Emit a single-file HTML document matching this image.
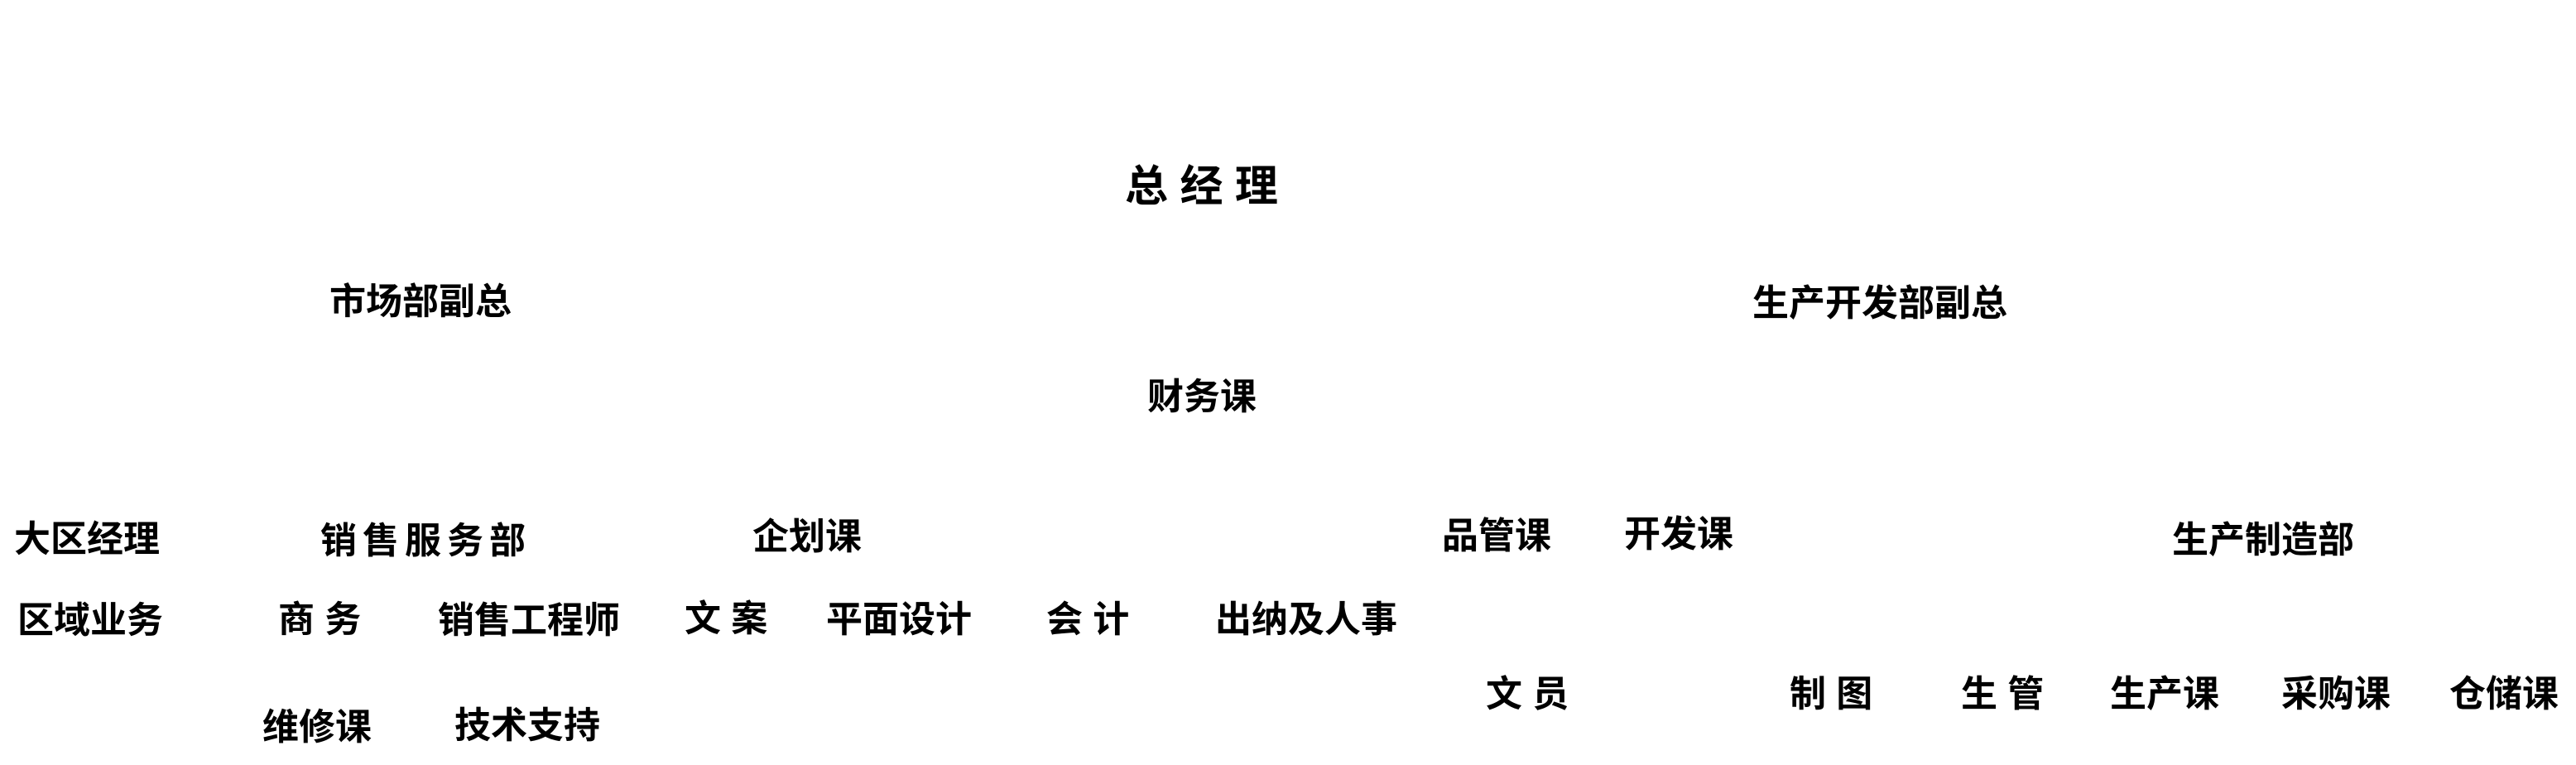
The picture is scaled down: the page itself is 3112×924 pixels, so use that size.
<!DOCTYPE html>
<html>
<head>
<meta charset="utf-8">
<style>
  html, body {
    margin: 0;
    padding: 0;
    background: #ffffff;
  }
  body {
    width: 3112px;
    height: 924px;
    position: relative;
    overflow: hidden;
  }
  .t {
    position: absolute;
    font-family: "Liberation Sans", "Noto Sans CJK SC", "WenQuanYi Zen Hei", sans-serif;
    font-weight: 700;
    font-size: 44px;
    line-height: 1;
    color: #000;
    white-space: pre;
  }
</style>
</head>
<body>
  <div class="t" style="left:1359px; top:200px; font-size:52px;">总 经 理</div>

  <div class="t" style="left:398px; top:343px;">市场部副总</div>
  <div class="t" style="left:2117px; top:345px;">生产开发部副总</div>

  <div class="t" style="left:1386px; top:458px;">财务课</div>

  <div class="t" style="left:17px; top:630px;">大区经理</div>
  <div class="t" style="left:387px; top:632px; letter-spacing:7px;">销售服务部</div>
  <div class="t" style="left:909px; top:627px;">企划课</div>
  <div class="t" style="left:1742px; top:626px;">品管课</div>
  <div class="t" style="left:1962px; top:624px;">开发课</div>
  <div class="t" style="left:2624px; top:631px;">生产制造部</div>

  <div class="t" style="left:21px; top:728px;">区域业务</div>
  <div class="t" style="left:336px; top:727px;">商 务</div>
  <div class="t" style="left:529px; top:728px;">销售工程师</div>
  <div class="t" style="left:827px; top:726px;">文 案</div>
  <div class="t" style="left:998px; top:727px;">平面设计</div>
  <div class="t" style="left:1264px; top:727px;">会 计</div>
  <div class="t" style="left:1468px; top:727px;">出纳及人事</div>

  <div class="t" style="left:1795px; top:817px;">文 员</div>
  <div class="t" style="left:2162px; top:817px;">制 图</div>
  <div class="t" style="left:2369px; top:817px;">生 管</div>
  <div class="t" style="left:2549px; top:817px;">生产课</div>
  <div class="t" style="left:2756px; top:817px;">采购课</div>
  <div class="t" style="left:2959px; top:817px;">仓储课</div>

  <div class="t" style="left:317px; top:857px;">维修课</div>
  <div class="t" style="left:549px; top:855px;">技术支持</div>
</body>
</html>
